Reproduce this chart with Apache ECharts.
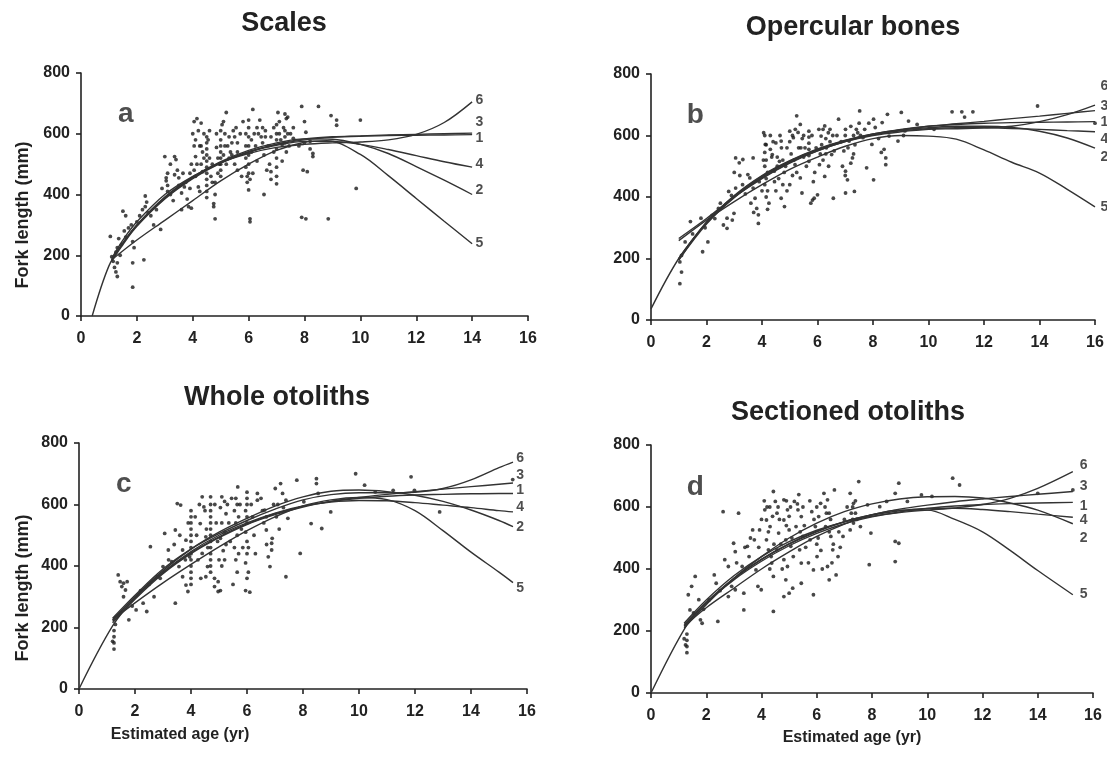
<!DOCTYPE html>
<html>
<head>
<meta charset="utf-8">
<title>Fork length vs estimated age</title>
<script src="https://cdn.jsdelivr.net/npm/echarts@6/dist/echarts.min.js"></script>
<style>
  html, body { margin: 0; padding: 0; background: #fff; }
  #chart { width: 1107px; height: 757px; }
</style>
</head>
<body>
<div id="chart"></div>
<script>
// ---- Panel titles, letters and axis names ----
const panelTitles = ['Scales', 'Opercular bones', 'Whole otoliths', 'Sectioned otoliths'];
const panelLetters = ['a', 'b', 'c', 'd'];
const curveNames = ['1', '2', '3', '4', '5', '6'];
const yAxisTitle = 'Fork length (mm)';
const xAxisTitle = 'Estimated age (yr)';
const xTickValues = [0, 2, 4, 6, 8, 10, 12, 14, 16];
const yTickValues = [0, 200, 400, 600, 800];

// ---- Observed fork length (mm) by estimated age (yr) ----
const scalesPoints = [
  [1.05,262],[1.1,195],[1.15,180],[1.2,160],[1.25,145],[1.25,210],[1.3,130],[1.3,175],[1.3,225],[1.35,255],
  [1.45,235],[1.5,345],[1.55,280],[1.6,330],[1.7,290],[1.8,300],[1.85,245],[1.85,175],[1.85,95],[1.9,225],
  [2.0,310],[2.1,330],[2.25,185],[2.3,395],[2.35,375],[2.3,360],[2.4,340],[2.5,330],[2.7,350],[2.85,285],[2.6,300],
  [3.0,525],[3.05,455],[3.05,445],[3.1,430],[3.1,410],[3.2,400],[3.3,380],[3.35,525],[3.4,515],[3.45,480],
  [3.35,465],[3.5,455],[3.6,405],[3.7,425],[3.8,385],[3.85,360],[3.95,355],[3.75,440],[3.6,350],[3.9,470],[3.95,500],
  [4.05,640],[4.15,650],[4.3,635],[4.05,560],[4.1,580],[4.1,525],[4.15,500],[4.05,480],[4.1,460],[4.2,425],
  [4.25,410],[4.3,560],[4.35,540],[4.3,500],[4.35,475],[4.5,590],[4.5,570],[4.5,550],[4.5,530],[4.5,510],
  [4.5,490],[4.5,470],[4.5,450],[4.5,430],[4.5,410],[4.5,390],[4.55,580],[4.6,520],[4.65,460],[4.7,440],
  [4.75,370],[4.75,360],[4.8,320],[4.8,400],[4.85,555],[4.9,520],[4.95,500],[4.9,470],[4.8,440],
  [5.0,610],[5.0,580],[5.0,560],[5.0,540],[5.0,520],[5.0,500],[5.0,480],[5.0,460],[5.1,640],[5.2,670],
  [5.15,600],[5.1,530],[5.2,500],[5.25,560],[5.3,590],[5.35,540],[5.4,530],[5.45,610],[5.5,590],[5.55,620],
  [5.6,570],[5.5,500],[5.6,480],
  [5.8,640],[5.9,600],[5.9,560],[5.9,520],[5.9,490],[5.95,460],[5.95,440],[6.0,415],[6.0,645],[6.0,620],
  [6.0,590],[6.0,560],[6.0,530],[6.0,500],[6.0,470],[6.05,450],[6.05,320],[6.05,310],[6.15,680],[6.2,600],[6.1,540],
  [6.3,620],[6.35,600],[6.4,645],[6.45,590],[6.5,570],[6.55,530],[6.55,400],[6.6,610],[6.7,560],[6.75,500],
  [6.8,475],[6.8,450],[6.9,620],[7.0,630],[7.0,600],[7.0,580],[7.0,550],[7.0,520],[7.0,490],[7.0,460],
  [7.0,435],[7.05,670],[7.1,600],[7.2,565],[7.2,510],
  [7.3,665],[7.35,650],[7.4,655],[7.3,610],[7.3,590],[7.3,570],[7.35,540],[7.5,600],[7.6,585],[7.9,690],
  [8.0,640],[8.05,605],[8.0,570],[7.95,480],[8.1,475],[7.9,325],[8.05,320],[8.2,550],[8.3,535],[8.3,525],[8.2,575],
  [8.5,690],[8.95,660],[9.15,645],[9.15,628],[8.85,320],[9.85,420],[10.0,645],
  [3.2,500],[3.5,430],[3.65,470],[3.9,420],[4.0,600],[4.2,610],[4.25,560],[4.4,520],[4.4,600],[4.6,610],
  [4.7,500],[4.85,600],[5.05,630],[5.15,560],[5.3,520],[5.4,570],[5.6,540],[5.7,600],[5.75,460],[6.1,580],
  [6.15,470],[6.25,560],[6.3,510],[6.5,620],[6.6,590],[6.65,480],[6.8,590],[6.9,540],[7.1,640],[7.15,580],
  [7.25,620],[7.4,600],[7.45,560],[7.6,620],[7.8,560],[3.1,470],[2.9,420],[2.2,350],[1.6,260],[1.4,200]
];

const opercularPoints = [
  [1.04,118],[1.1,156],[1.04,189],[1.1,210],[1.23,254],[1.42,320],[1.86,222],[2.05,254],[1.8,331],[1.95,300],
  [2.2,340],[2.43,363],[2.61,309],[2.74,298],[2.74,331],[2.93,325],[2.99,347],[2.8,418],[3.05,429],[2.9,405],
  [3.05,527],[3.18,511],[3.31,522],[3.68,527],[3.49,473],[3.56,462],[3.68,429],[3.75,396],[3.81,363],[3.87,342],
  [3.87,314],[3.3,440],[3.6,380],[3.7,350],
  [4.06,609],[4.12,571],[4.1,600],[4.15,570],[4.1,545],[4.15,520],[4.1,500],[4.2,480],[4.15,460],[4.1,440],
  [4.2,420],[4.15,400],[4.25,380],[4.2,360],[4.3,555],[4.35,530],
  [4.5,576],[4.69,582],[4.37,538],[4.63,516],[4.44,484],[4.75,440],[4.69,396],[4.81,369],[4.6,460],[4.5,420],
  [4.7,560],[4.55,500],[4.8,480],[4.9,420],
  [5.0,614],[5.25,664],[5.38,636],[5.13,593],[5.32,560],[5.19,505],[5.38,462],[5.44,413],[5.05,540],[5.1,470],
  [5.3,610],[5.2,620],[5.45,590],[5.5,530],[5.0,440],
  [5.69,614],[5.69,595],[5.69,575],[5.69,555],[5.69,535],[5.69,516],[5.76,380],[5.82,390],[5.88,396],[6.0,407],
  [5.85,450],[5.9,480],
  [6.13,598],[6.26,631],[6.39,609],[6.32,560],[6.51,538],[6.07,505],[6.26,467],[6.57,396],[6.2,620],[6.3,590],
  [6.45,580],[6.1,540],[6.2,520],[6.4,500],[6.6,550],
  [6.76,653],[7.01,620],[7.14,582],[7.26,527],[7.01,484],[7.08,456],[7.33,418],[7.01,413],[7.52,680],[7.45,609],
  [7.64,593],[7.0,600],[7.1,560],[7.2,510],[7.3,600],[7.4,620],[7.35,570],[7.5,640],[6.9,500],[7.0,470],
  [8.02,653],[8.08,626],[7.96,571],[7.77,495],[8.02,456],[8.4,555],[8.46,527],[8.46,505],[8.52,669],[8.33,642],
  [8.58,598],[8.2,590],[8.3,545],
  [9.02,675],[8.9,582],[9.15,615],[9.28,647],[9.59,636],[9.1,600],
  [10.85,677],[11.2,677],[11.3,660],[11.6,677],[13.93,696],[16.0,640],[10.2,620],
  [3.9,450],[4.0,420],[4.05,520],[4.3,600],[4.4,580],[4.45,450],[4.55,530],[4.65,600],[4.75,520],[4.85,500],
  [4.9,560],[5.0,580],[5.1,600],[5.15,520],[5.25,480],[5.4,560],[5.5,600],[5.55,560],[5.6,500],[5.8,600],
  [5.95,560],[6.05,620],[6.15,570],[6.3,540],[6.45,620],[6.55,600],[6.7,600],[6.85,580],[6.95,550],[7.2,630],
  [7.3,540],[7.55,600],[7.7,620],[7.85,640],[3.0,480],[3.2,470],[3.4,410],[2.5,380],[2.3,330],[1.5,280]
];

const wholePoints = [
  [1.25,130],[1.25,150],[1.25,170],[1.25,190],[1.3,210],[1.2,155],
  [1.4,371],[1.47,349],[1.59,344],[1.66,322],[1.59,300],[1.72,349],[1.53,333],
  [1.78,225],[2.04,257],[2.42,252],[2.55,463],[2.29,279],[2.68,300],[2.8,365],[3.0,398],[3.06,506],[3.19,452],
  [3.31,414],[3.44,279],[3.44,517],[3.51,603],[3.63,598],
  [3.57,398],[3.7,365],[3.82,338],[3.89,317],[3.7,452],[3.82,484],[3.95,430],
  [4.0,580],[4.0,560],[4.0,540],[4.0,520],[4.0,500],[4.0,480],[4.0,460],[4.0,440],[4.0,420],[4.0,400],
  [4.0,380],[4.0,360],[4.0,340],
  [4.4,625],[4.46,592],[4.33,538],[4.53,495],[4.4,441],[4.53,365],[4.59,398],
  [4.7,625],[4.7,600],[4.7,580],[4.7,560],[4.7,540],[4.7,520],[4.7,500],[4.7,480],[4.7,460],[4.7,440],
  [4.7,420],[4.7,400],[4.7,380],
  [4.84,360],[4.97,349],[4.84,333],[4.97,317],[5.05,320],
  [5.1,625],[5.2,610],[5.05,590],[5.25,570],[5.1,540],[5.2,510],[5.05,490],[5.25,470],[5.15,450],[5.2,420],[5.1,400],
  [5.67,657],[5.6,620],[5.65,600],[5.55,580],[5.7,560],[5.6,540],[5.65,500],[5.55,460],[5.7,440],[5.6,420],
  [5.65,380],[5.5,340],
  [6.0,640],[6.0,620],[6.0,600],[5.95,580],[6.0,560],[6.0,540],[5.95,510],[6.0,480],[6.05,460],[6.0,440],
  [5.95,410],[6.05,380],[6.0,360],[5.95,320],[6.1,315],
  [6.37,614],[6.37,636],[6.63,582],[6.69,560],[6.69,517],[6.88,474],[6.88,452],[6.76,430],[6.82,398],[6.9,490],
  [7.01,652],[7.2,668],[7.27,636],[7.39,614],[7.46,555],[7.39,365],[7.1,600],
  [7.78,679],[8.48,684],[8.48,668],[8.54,636],[8.03,609],[8.29,538],[7.9,441],[8.67,522],[8.99,576],
  [9.88,700],[10.2,663],[10.58,641],[11.22,646],[11.86,690],[11.98,646],[12.88,576],[15.49,681],
  [3.2,420],[3.4,470],[3.6,500],[3.8,420],[3.9,540],[4.15,560],[4.2,500],[4.25,420],[4.3,600],[4.35,360],
  [4.5,580],[4.55,520],[4.6,460],[4.85,600],[4.9,540],[4.95,480],[5.0,420],[5.3,600],[5.35,540],[5.4,480],
  [5.45,620],[5.75,600],[5.8,520],[5.85,460],[6.15,600],[6.2,560],[6.25,500],[6.3,440],[6.5,620],[6.55,580],
  [6.6,540],[6.7,470],[6.95,600],[7.05,560],[7.15,520],[7.3,590],[2.2,320],[2.5,340],[2.9,360],[1.9,270]
];

const sectionedPoints = [
  [1.3,130],[1.3,150],[1.3,170],[1.3,190],[1.25,155],[1.2,175],
  [1.35,317],[1.47,344],[1.6,376],[1.41,268],[1.54,258],[1.73,301],[1.79,236],[1.85,225],[2.29,381],[2.36,354],
  [2.42,231],[2.61,585],[2.67,430],[2.8,408],[2.99,483],[3.05,456],[3.17,580],[2.92,344],[3.05,333],[2.8,311],
  [3.3,408],[3.36,322],[3.36,268],[3.49,473],[3.55,440],[3.68,526],[3.74,494],[3.8,397],[3.87,344],[3.99,333],
  [3.93,526],[4.12,591],[4.18,558],[4.31,537],[4.18,494],[4.25,462],[4.37,419],[4.43,376],[4.43,263],[4.43,650],
  [4.5,618],[4.56,580],[4.62,516],[4.56,462],[4.3,600],[4.4,570],[4.45,480],[4.35,440],
  [4.81,623],[4.94,591],[4.81,558],[5.0,526],[4.88,494],[5.06,473],[4.81,430],[4.94,408],[4.88,365],[5.0,322],
  [4.81,311],[5.13,338],[4.9,540],[5.05,600],
  [5.19,618],[5.32,591],[5.44,569],[5.25,537],[5.5,505],[5.38,462],[5.44,419],[5.44,354],[5.3,610],[5.4,520],
  [5.82,585],[5.95,537],[5.76,494],[6.01,440],[5.88,397],[5.88,317],[6.14,612],[6.07,569],[5.9,560],[6.0,480],
  [6.26,644],[6.39,623],[6.45,580],[6.32,537],[6.51,505],[6.58,462],[6.39,408],[6.45,365],[6.7,381],[6.77,440],
  [6.64,655],[6.3,600],[6.5,560],[6.6,480],
  [7.21,644],[7.33,612],[7.4,580],[7.33,548],[7.21,526],[6.95,505],[7.52,682],[7.58,537],[7.3,600],[7.3,560],
  [7.84,607],[7.96,516],[7.9,414],[8.28,601],[8.53,618],[8.84,644],[8.97,677],[8.84,489],[8.97,483],[8.84,424],
  [9.28,618],[9.79,639],[10.17,634],[10.92,693],[11.17,671],[14.0,644],[15.27,655],
  [3.1,420],[3.4,470],[3.6,500],[3.9,470],[4.0,560],[4.1,620],[4.2,600],[4.25,520],[4.3,400],[4.6,600],
  [4.65,560],[4.7,480],[4.75,400],[4.9,620],[5.0,570],[5.1,500],[5.15,440],[5.35,640],[5.5,600],[5.55,540],
  [5.6,470],[5.7,420],[5.75,620],[6.0,600],[6.05,500],[6.15,460],[6.2,400],[6.35,580],[6.45,520],[6.55,420],
  [6.8,520],[6.85,470],[7.0,560],[7.1,600],[7.25,580],[7.4,620],[7.45,560],[2.5,330],[2.1,300],[1.9,270]
];

// ---- Fitted growth curves [age, fork length] ----
const scalesFit1 = [[0.4,0],[1,165],[1.5,240],[2,300],[3,390],[4,455],[5,505],[6,540],[7,565],[8,580],[9,588],[10,592],[11,594],[12,595],[13,596],[14,597]];
const scalesFit2 = [[1.1,185],[1.5,240],[2,300],[3,392],[4,458],[5,508],[6,545],[7,570],[8,583],[9,582],[10,565],[11,535],[12,492],[13,447],[14,400]];
const scalesFit3 = [[1.1,180],[1.5,235],[2,295],[3,385],[4,452],[5,503],[6,540],[7,566],[8,583],[9,590],[10,593],[11,596],[12,598],[13,600],[14,602]];
const scalesFit4 = [[1.1,185],[1.5,240],[2,298],[3,388],[4,455],[5,505],[6,540],[7,562],[8,575],[9,575],[10,565],[11,548],[12,528],[13,508],[14,490]];
const scalesFit5 = [[1.1,185],[2,250],[3,315],[4,380],[5,445],[6,500],[7,545],[8,572],[8.8,577],[10,532],[11,462],[12,387],[13,312],[14,238]];
const scalesFit6 = [[1.1,190],[1.5,250],[2,310],[3,400],[4,460],[5,505],[6,535],[7,555],[8,565],[9,570],[10,573],[11,580],[12,598],[13,637],[14,705]];

const opercularFit1 = [[0,36],[1,200],[2,315],[3,400],[4,465],[5,515],[6,553],[7,583],[8,605],[9,620],[10,630],[11,636],[12,640],[13,642],[14,643],[15,644],[16,645]];
const opercularFit2 = [[1,195],[2,318],[3,405],[4,470],[5,518],[6,556],[7,585],[8,605],[9,618],[10,625],[11,630],[12,630],[13,626],[14,614],[15,592],[16,559]];
const opercularFit3 = [[1,195],[2,312],[3,398],[4,462],[5,512],[6,550],[7,580],[8,602],[9,618],[10,630],[11,638],[12,646],[13,655],[14,663],[15,672],[16,681]];
const opercularFit4 = [[1,200],[2,318],[3,403],[4,468],[5,517],[6,555],[7,583],[8,603],[9,615],[10,622],[11,625],[12,625],[13,623],[14,620],[15,616],[16,612]];
const opercularFit5 = [[1,258],[2,325],[3,385],[4,440],[5,490],[6,530],[7,565],[8,590],[9,600],[10,598],[11,588],[12,553],[13,513],[14,478],[15,425],[16,368]];
const opercularFit6 = [[1,265],[2,330],[3,400],[4,460],[5,510],[6,550],[7,580],[8,600],[9,612],[10,620],[11,622],[12,625],[13,630],[14,645],[15,668],[16,699]];

const wholeFit1 = [[0,0],[1.2,205],[2,295],[3,378],[4,443],[5,495],[6,537],[7,570],[8,594],[9,610],[10,620],[11,627],[12,631],[13,633],[14,635],[15,636],[15.5,636]];
const wholeFit2 = [[1.2,220],[2,300],[3,385],[4,455],[5,510],[6,555],[7,595],[8,625],[9,643],[10,647],[11,642],[12,630],[13,610],[14,582],[15,548],[15.5,528]];
const wholeFit3 = [[1.2,215],[2,292],[3,375],[4,440],[5,492],[6,535],[7,567],[8,592],[9,610],[10,623],[11,633],[12,642],[13,650],[14,658],[15,666],[15.5,670]];
const wholeFit4 = [[1.2,225],[2,298],[3,380],[4,447],[5,500],[6,540],[7,572],[8,595],[9,608],[10,613],[11,612],[12,606],[13,598],[14,590],[15,580],[15.5,576]];
const wholeFit5 = [[1.2,225],[2,280],[3,345],[4,405],[5,462],[6,515],[7,560],[8,595],[9,615],[10,623],[11,616],[12,580],[13,515],[14,445],[15,380],[15.5,346]];
const wholeFit6 = [[1.2,230],[2,305],[3,390],[4,455],[5,505],[6,548],[7,585],[8,615],[9,632],[10,638],[11,638],[12,640],[13,652],[14,680],[15,720],[15.5,738]];

const sectionedFit1 = [[0,0],[1.3,220],[2,290],[3,365],[4,425],[5,475],[6,515],[7,546],[8,568],[9,584],[10,595],[11,603],[12,608],[13,611],[14,613],[15.27,615]];
const sectionedFit2 = [[1.2,210],[2,285],[3,370],[4,440],[5,500],[6,548],[7,585],[8,610],[9,626],[10,633],[11,634],[12,629],[13,613],[14,590],[15.27,546]];
const sectionedFit3 = [[1.2,215],[2,290],[3,368],[4,430],[5,480],[6,520],[7,552],[8,575],[9,593],[10,606],[11,617],[12,626],[13,634],[14,641],[15.27,650]];
const sectionedFit4 = [[1.2,220],[2,293],[3,370],[4,432],[5,482],[6,522],[7,553],[8,574],[9,588],[10,595],[11,596],[12,592],[13,585],[14,577],[15.27,567]];
const sectionedFit5 = [[1.2,215],[2,275],[3,338],[4,400],[5,455],[6,505],[7,545],[8,575],[9,590],[10,590],[11,560],[12,520],[13,460],[14,395],[15.27,317]];
const sectionedFit6 = [[1.2,225],[2,300],[3,378],[4,440],[5,488],[6,525],[7,552],[8,570],[9,582],[10,590],[11,597],[12,608],[13,628],[14,660],[15.27,714]];

// ---- Curve number tags at the right-hand end of each fit [name, age, length] ----
const scalesTags = [['6',14.12,710],['3',14.12,639],['1',14.12,585],['4',14.12,500],['2',14.12,414],['5',14.12,241]];
const opercularTags = [['6',16.2,759],['3',16.2,694],['1',16.2,642],['4',16.2,589],['2',16.2,531],['5',16.2,368]];
const wholeTags = [['6',15.62,752],['3',15.62,695],['1',15.62,646],['4',15.62,592],['2',15.62,525],['5',15.62,328]];
const sectionedTags = [['6',15.52,736],['3',15.52,666],['1',15.52,604],['4',15.52,559],['2',15.52,500],['5',15.52,319]];

// ---- Layout ----
const FONT = '"Liberation Sans", Arial, Helvetica, sans-serif';
const INK = '#222';
const grids = [
  { left: 81,  top: 73,  width: 447, height: 243 },
  { left: 651, top: 74,  width: 444, height: 246 },
  { left: 79,  top: 443, width: 448, height: 246 },
  { left: 651, top: 445, width: 442, height: 248 }
];
const titleCenters = [[284, 24], [853, 28], [277, 398], [848, 413]];
const yTitleCenters = [[23, 215], null, [23, 588], null];
const xTitleCenters = [null, null, [180, 735], [852, 738]];

const panels = [
  { points: scalesPoints, fits: [scalesFit1, scalesFit2, scalesFit3, scalesFit4, scalesFit5, scalesFit6], tags: scalesTags },
  { points: opercularPoints, fits: [opercularFit1, opercularFit2, opercularFit3, opercularFit4, opercularFit5, opercularFit6], tags: opercularTags },
  { points: wholePoints, fits: [wholeFit1, wholeFit2, wholeFit3, wholeFit4, wholeFit5, wholeFit6], tags: wholeTags },
  { points: sectionedPoints, fits: [sectionedFit1, sectionedFit2, sectionedFit3, sectionedFit4, sectionedFit5, sectionedFit6], tags: sectionedTags }
];

const axisLineStyle = { color: INK, width: 1.6 };
const xAxes = [], yAxes = [], series = [];

panels.forEach((p, i) => {
  xAxes.push({
    type: 'value', gridIndex: i, min: xTickValues[0], max: xTickValues[xTickValues.length - 1], interval: 2,
    axisLine: { show: true, onZero: false, lineStyle: axisLineStyle },
    axisTick: { show: true, length: 5, lineStyle: axisLineStyle },
    splitLine: { show: false },
    axisLabel: { fontFamily: FONT, fontWeight: 'bold', fontSize: 16, color: INK, margin: 15 }
  });
  yAxes.push({
    type: 'value', gridIndex: i, min: yTickValues[0], max: yTickValues[yTickValues.length - 1], interval: 200,
    axisLine: { show: true, onZero: false, lineStyle: axisLineStyle },
    axisTick: { show: true, length: 5, lineStyle: axisLineStyle },
    splitLine: { show: false },
    axisLabel: { fontFamily: FONT, fontWeight: 'bold', fontSize: 16, color: INK, margin: 11 }
  });

  series.push({
    type: 'scatter', xAxisIndex: i, yAxisIndex: i, data: p.points,
    symbol: 'circle', symbolSize: 3.8, itemStyle: { color: '#1a1a1a' }, z: 2, silent: true
  });

  p.fits.forEach((fit, k) => {
    series.push({
      type: 'line', name: curveNames[k], xAxisIndex: i, yAxisIndex: i, data: fit,
      showSymbol: false, smooth: 0.35, z: 3, silent: true,
      lineStyle: { color: '#333', width: 1.4 }
    });
  });

  series.push({
    type: 'scatter', xAxisIndex: i, yAxisIndex: i, clip: false, silent: true, z: 4,
    symbolSize: 0,
    data: p.tags.map(t => ({ value: [t[1], t[2]], name: t[0] })),
    label: {
      show: true, position: 'right', distance: 0, formatter: '{b}',
      fontFamily: FONT, fontWeight: 'bold', fontSize: 14, color: INK
    }
  });

  series.push({
    type: 'scatter', xAxisIndex: i, yAxisIndex: i, silent: true, z: 4, symbolSize: 0,
    data: [{ value: [1.6, 665], name: panelLetters[i] }],
    label: {
      show: true, position: 'inside', formatter: '{b}',
      fontFamily: FONT, fontWeight: 'bold', fontSize: 28, color: INK
    }
  });
});

function textEl(text, pos, size, rotation) {
  return {
    type: 'text', x: pos[0], y: pos[1], rotation: rotation || 0,
    style: {
      text: text, fill: INK, font: 'bold ' + size + 'px ' + FONT,
      textAlign: 'center', textVerticalAlign: 'middle', align: 'center', verticalAlign: 'middle'
    }
  };
}

const graphics = [];
panelTitles.forEach((t, i) => graphics.push(textEl(t, titleCenters[i], 27)));
yTitleCenters.forEach(c => { if (c) graphics.push(textEl(yAxisTitle, c, 18, Math.PI / 2)); });
xTitleCenters.forEach(c => { if (c) graphics.push(textEl(xAxisTitle, c, 16)); });

const chart = echarts.init(document.getElementById('chart'), null, { renderer: 'canvas' });
chart.setOption({
  backgroundColor: '#fff',
  animation: false,
  grid: grids,
  xAxis: xAxes,
  yAxis: yAxes,
  series: series,
  graphic: graphics
});
</script>
</body>
</html>
